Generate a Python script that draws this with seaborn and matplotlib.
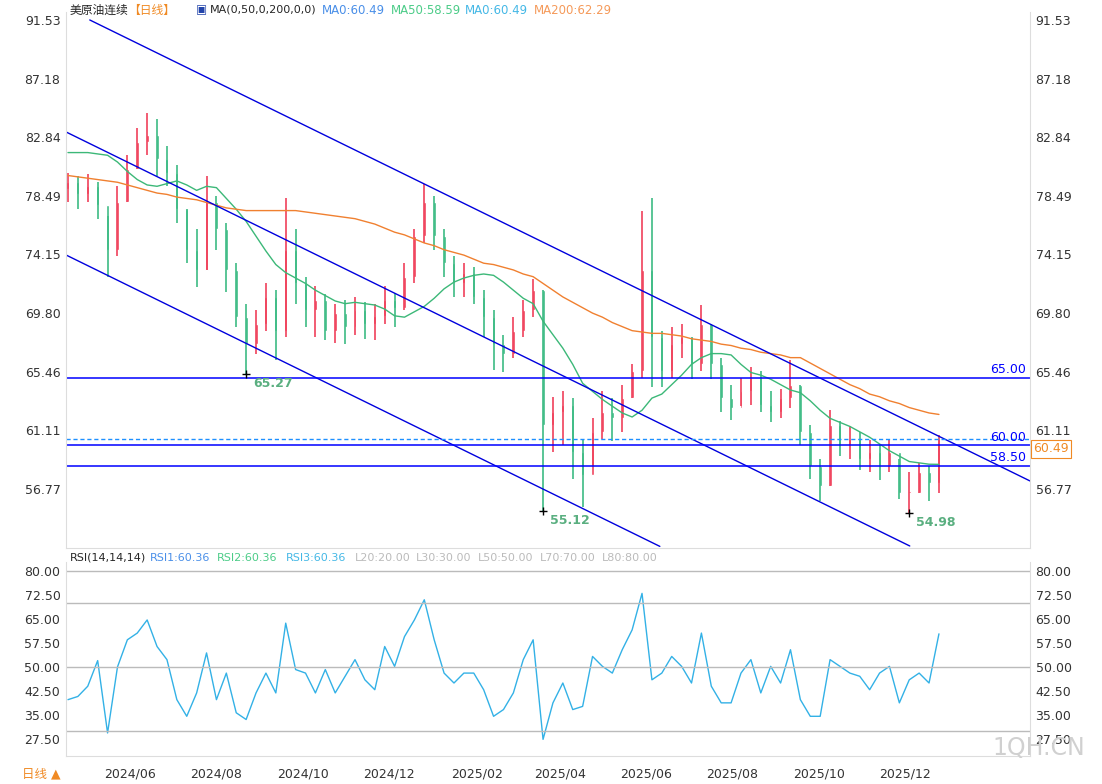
import numpy as np
import pandas as pd
import matplotlib
matplotlib.use('Agg')
import matplotlib.pyplot as plt
from matplotlib import font_manager
import seaborn as sns

# register a sans CJK font by file so the Chinese labels render
fam = []
for f in font_manager.findSystemFonts():
    if 'CJK' not in f and 'cjk' not in f:
        continue
    try:
        font_manager.fontManager.addfont(f)
        name = font_manager.FontProperties(fname=f).get_name()
        if 'Sans' in name and name not in fam:
            fam.append(name)
    except Exception:
        pass
sns.set_style('white')
plt.rcParams['font.family'] = ['DejaVu Sans'] + fam

# weekly bars
start = pd.Timestamp('2024-04-18')
close = [79.5, 78.6, 79.2, 77.8, 74.5, 78.0, 80.5, 82.5, 83.0, 81.2,
         80.2, 77.5, 74.5, 73.0, 78.0, 76.0, 73.0, 69.5, 67.5, 69.0,
         71.0, 68.5, 74.5, 72.0, 70.0, 70.8, 68.5, 69.8, 68.8, 70.0,
         69.0, 69.6, 70.8, 70.2, 72.5, 75.5, 78.0, 75.5, 73.5, 72.0,
         72.8, 71.0, 69.5, 67.5, 66.8, 68.5, 70.0, 71.5, 61.5, 62.5,
         63.0, 59.5, 57.8, 61.0, 62.5, 62.0, 63.5, 65.5, 73.0, 68.0,
         65.5, 67.5, 68.0, 66.0, 69.0, 66.0, 63.5, 62.8, 64.0, 65.0,
         63.0, 62.5, 63.5, 64.5, 61.0, 58.5, 57.0, 61.5, 60.0, 60.5,
         59.0, 59.5, 58.5, 59.5, 56.5, 56.5, 58.0, 57.2, 60.49]
high = [80.2, 80.0, 80.1, 79.5, 77.0, 79.2, 81.5, 83.5, 84.6, 84.2,
        82.2, 80.8, 77.5, 76.0, 80.0, 78.5, 76.5, 73.5, 70.5, 70.0,
        72.0, 71.5, 78.3, 76.0, 72.5, 71.8, 71.2, 70.5, 70.8, 71.0,
        70.6, 70.5, 71.8, 71.3, 73.5, 76.0, 79.4, 78.5, 76.0, 74.0,
        73.5, 73.2, 71.5, 70.0, 68.2, 69.5, 70.8, 72.3, 71.5, 63.6,
        64.0, 63.5, 60.5, 62.0, 64.0, 63.5, 64.5, 66.0, 77.4, 78.3,
        68.5, 68.8, 69.0, 68.0, 70.4, 69.0, 66.5, 64.5, 65.0, 65.8,
        65.5, 64.0, 64.2, 66.3, 64.5, 61.5, 59.0, 62.6, 61.8, 61.4,
        61.0, 60.4, 60.0, 60.4, 59.0, 58.0, 58.7, 58.5, 60.8]
low = [78.0, 77.5, 78.0, 76.8, 72.5, 74.0, 78.0, 80.5, 81.5, 80.0,
       79.2, 76.5, 73.5, 71.7, 73.0, 74.5, 71.4, 68.8, 65.27, 66.8,
       68.5, 66.3, 68.0, 70.5, 68.8, 68.0, 67.8, 67.6, 67.5, 68.2,
       67.9, 67.8, 69.0, 68.8, 70.0, 72.0, 75.0, 74.5, 72.5, 71.0,
       71.0, 70.5, 68.0, 65.6, 65.4, 66.5, 68.0, 69.5, 55.12, 59.5,
       60.0, 57.5, 55.4, 58.5, 60.5, 60.3, 61.0, 63.5, 65.0, 64.3,
       64.3, 65.0, 66.5, 64.9, 65.5, 64.9, 62.5, 61.9, 62.9, 63.0,
       62.5, 61.7, 62.0, 62.8, 60.0, 57.5, 55.9, 57.0, 59.2, 59.0,
       58.2, 58.0, 57.4, 58.0, 56.0, 54.98, 56.5, 55.9, 56.5]
ma50 = [81.7, 81.7, 81.7, 81.6, 81.5, 81.0, 80.3, 79.7, 79.3, 79.2,
        79.4, 79.6, 79.3, 78.9, 79.2, 79.1, 78.3, 77.5, 76.6, 75.5,
        74.4, 73.4, 72.8, 72.4, 72.0, 71.5, 71.1, 70.7, 70.5, 70.6,
        70.5, 70.4, 70.1, 69.6, 69.5, 69.9, 70.3, 70.9, 71.6, 72.1,
        72.4, 72.6, 72.7, 72.6, 72.1, 71.5, 70.9, 70.5, 69.2, 68.2,
        67.2, 66.0, 64.6, 64.0, 63.4, 62.9, 62.4, 62.1, 62.6, 63.5,
        63.8, 64.5, 65.2, 66.0, 66.5, 66.8, 66.8, 66.7, 66.0, 65.4,
        65.2, 64.9, 64.5, 64.1, 63.9, 63.3, 62.6, 62.0, 61.7, 61.4,
        61.0, 60.6, 60.1, 59.6, 59.2, 58.8, 58.7, 58.6, 58.59]
ma200 = [80.0, 79.9, 79.8, 79.7, 79.6, 79.5, 79.3, 79.1, 78.9, 78.7,
         78.6, 78.4, 78.3, 78.2, 78.0, 77.8, 77.6, 77.5, 77.4, 77.4,
         77.4, 77.4, 77.4, 77.4, 77.3, 77.2, 77.1, 77.0, 76.9, 76.8,
         76.6, 76.4, 76.1, 75.8, 75.6, 75.3, 75.0, 74.8, 74.5, 74.3,
         74.1, 73.8, 73.5, 73.4, 73.2, 73.0, 72.7, 72.5, 72.0, 71.5,
         71.0, 70.6, 70.2, 69.8, 69.5, 69.1, 68.8, 68.5, 68.4, 68.3,
         68.3, 68.2, 68.1, 67.9, 67.8, 67.7, 67.5, 67.4, 67.2, 67.1,
         66.9, 66.8, 66.7, 66.5, 66.5, 66.1, 65.7, 65.3, 64.9, 64.5,
         64.2, 63.8, 63.6, 63.3, 63.1, 62.8, 62.6, 62.4, 62.29]
rsi = [39.8, 40.8, 44.0, 52.0, 29.4, 50.0, 58.5, 60.6, 64.7, 56.4,
       52.3, 39.8, 34.6, 41.9, 54.4, 39.8, 48.1, 35.7, 33.6, 41.9,
       48.1, 41.9, 63.7, 49.2, 48.1, 41.9, 49.2, 41.9, 47.1, 52.3,
       46.0, 42.9, 56.4, 50.2, 59.5, 64.7, 71.0, 58.5, 48.1, 45.0,
       48.1, 48.1, 42.9, 34.6, 36.7, 41.9, 52.3, 58.5, 27.4, 38.8,
       45.0, 36.7, 37.7, 53.3, 50.2, 48.1, 55.4, 61.6, 73.0, 46.0,
       48.1, 53.3, 50.2, 45.0, 60.6, 44.0, 38.8, 38.8, 48.1, 52.3,
       41.9, 50.2, 45.0, 55.4, 39.8, 34.6, 34.6, 52.3, 50.2, 48.1,
       47.1, 42.9, 48.1, 50.2, 38.8, 46.0, 48.1, 45.0, 60.36]

price_ticks = [91.53, 87.18, 82.84, 78.49, 74.15, 69.80, 65.46, 61.11, 56.77]
rsi_ticks = [80.00, 72.50, 65.00, 57.50, 50.00, 42.50, 35.00, 27.50]
rsi_grid = [80, 70, 50, 30]
month_labels = ['2024/06', '2024/08', '2024/10', '2024/12', '2025/02',
                '2025/04', '2025/06', '2025/08', '2025/10', '2025/12']
levels = [65.00, 60.00, 58.50]
last_price = 60.49
lows_marked = [(18, 65.27), (48, 55.12), (85, 54.98)]
# channel lines (start idx, price, end idx, price)
channels = [(2.2, 91.53, 97.2, 57.36),
            (-0.2, 83.23, 85.05, 52.54),
            (-0.2, 74.11, 59.8, 52.51)]

df = pd.DataFrame({'i': np.arange(len(close)), 'close': close, 'high': high,
                   'low': low, 'ma50': ma50, 'ma200': ma200, 'rsi': rsi})
df['open'] = [79.0] + close[:-1]
up = df['close'] >= df['open']
RED, GREEN = '#f0415b', '#3dbb84'

fig = plt.figure(figsize=(11.02, 7.84), dpi=100)
W, H = 1102, 784
ax = fig.add_axes([66 / W, 1 - 548 / H, (1030 - 66) / W, (548 - 12) / H])
ax2 = fig.add_axes([66 / W, 1 - 756 / H, (1030 - 66) / W, (756 - 562) / H])
xlim = (-0.2, 97.2)

cols = np.where(up, RED, GREEN)
ax.vlines(df['i'], df['low'], df['high'], colors=cols, lw=1.2)
ax.bar(df['i'], (df['close'] - df['open']).abs().clip(lower=0.15),
       bottom=np.minimum(df['open'], df['close']), width=0.3, color=cols)
sns.lineplot(data=df, x='i', y='ma50', ax=ax, color='#3cb878', lw=1)
sns.lineplot(data=df, x='i', y='ma200', ax=ax, color='#f08030', lw=1)
for x0, y0, x1, y1 in channels:
    ax.plot([x0, x1], [y0, y1], color='#0000dd', lw=1)
for lv in levels:
    ax.axhline(lv, color='#0000ff', lw=1.1)
    ax.text(96.8, lv + 0.12, f'{lv:.2f}', color='#0000ff', ha='right',
            va='bottom', fontsize=9)
ax.axhline(last_price, color='#1e90ff', lw=1, ls=(0, (3, 2)))
for i, p in lows_marked:
    ax.plot(i, p, marker='+', color='k', ms=6, mew=1)
    ax.text(i + 0.7, p - 0.2, f'{p:.2f}', color='#5aaf80', fontsize=9,
            va='top', fontweight='bold')
ax.set_xlim(*xlim)
ax.set_ylim(52.39, 92.12)

sns.lineplot(data=df, x='i', y='rsi', ax=ax2, color='#33b1e6', lw=1)
for g in rsi_grid:
    ax2.axhline(g, color='#bbbbbb', lw=1)
ax2.set_xlim(*xlim)
ax2.set_ylim(22.2, 82.8)

mdates = [pd.Timestamp(s.replace('/', '-') + '-01') for s in month_labels]
mpos = [(d - start).days / 7 for d in mdates]

for a, ticks in ((ax, price_ticks), (ax2, rsi_ticks)):
    a.set_yticks(ticks)
    a.set_yticklabels([f'{t:.2f}' for t in ticks])
    a.tick_params(axis='y', labelsize=9, length=0, labelright=True,
                  colors='#333333', pad=4)
    a.set_xlabel('')
    a.set_ylabel('')
    for s in a.spines.values():
        s.set_color('#dddddd')
    a.spines['top'].set_visible(False)
ax.set_xticks([])
ax2.set_xticks(mpos)
ax2.set_xticklabels(month_labels)
ax2.tick_params(axis='x', labelsize=9, length=0, colors='#333333', pad=8)

# header texts
fs = 8.5
fig.text(70 / W, 1 - 10 / H, '美原油连续', fontsize=fs, va='center')
fig.text(128 / W, 1 - 10 / H, '【日线】', fontsize=fs, va='center', color='#f08a24')
fig.text(196 / W, 1 - 10 / H, '▣', fontsize=fs, va='center', color='#2244aa')
fig.text(210 / W, 1 - 10 / H, 'MA(0,50,0,200,0,0)', fontsize=8, va='center')
hdr = [('MA0:60.49', '#4a8fe8', 322), ('MA50:58.59', '#4ccc88', 391),
       ('MA0:60.49', '#45b8e6', 465), ('MA200:62.29', '#f59a5a', 534)]
for t, c, x in hdr:
    fig.text(x / W, 1 - 10 / H, t, fontsize=fs, va='center', color=c)
fig.text(70 / W, 1 - 558 / H, 'RSI(14,14,14)', fontsize=8, va='center')
rh = [('RSI1:60.36', '#4a8fe8', 150), ('RSI2:60.36', '#4ccc88', 217),
      ('RSI3:60.36', '#45b8e6', 286), ('L20:20.00', '#bbbbbb', 355),
      ('L30:30.00', '#bbbbbb', 416), ('L50:50.00', '#bbbbbb', 478),
      ('L70:70.00', '#bbbbbb', 540), ('L80:80.00', '#bbbbbb', 602)]
for t, c, x in rh:
    fig.text(x / W, 1 - 558 / H, t, fontsize=8, va='center', color=c)
fig.text(1033 / W, 1 - 449 / H, '60.49', fontsize=9, va='center', color='#f08a24',
         bbox=dict(boxstyle='square,pad=0.2', fc='white', ec='#f08a24', lw=0.8))
fig.text(22 / W, 1 - 774 / H, '日线 ▲', fontsize=9, va='center', color='#f08a24')
fig.text(1085 / W, 1 - 748 / H, '1QH.CN', fontsize=17, ha='right', va='center',
         color='#d0d0d0', zorder=0)

fig.savefig('out.png', dpi=100)
